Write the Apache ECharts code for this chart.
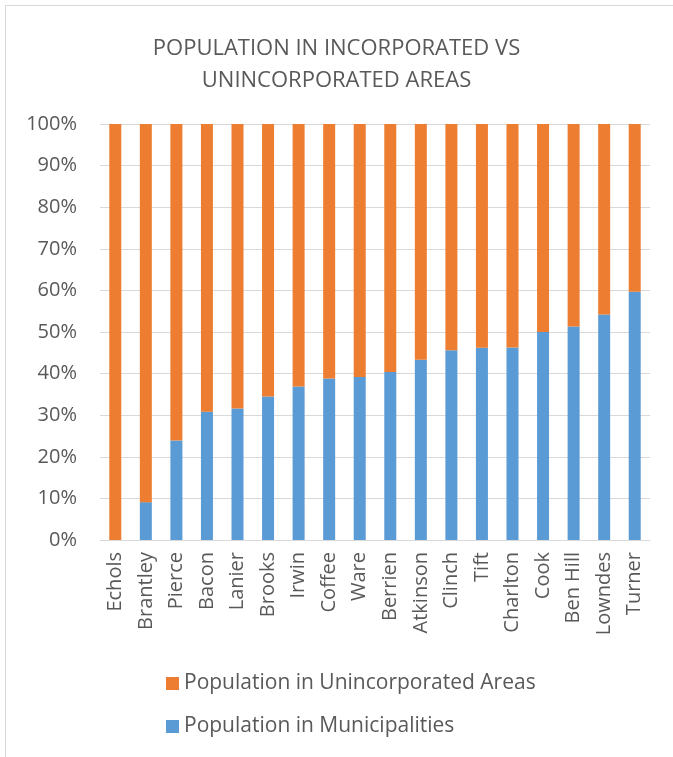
<!DOCTYPE html>
<html>
<head>
<meta charset="utf-8">
<script src="https://cdn.jsdelivr.net/npm/echarts@6/dist/echarts.min.js"></script>
<style>
  html, body { margin: 0; padding: 0; background: #fff; }
  #frame { position: absolute; left: 5px; top: 5px; width: 680px; height: 760px; border: 1px solid #d9d9d9; box-sizing: border-box; }
  #chart { position: absolute; left: 0; top: 0; width: 673px; height: 757px; }
</style>
</head>
<body>
<div id="frame"></div>
<div id="chart"></div>
<script>
// 县名
const counties = ['Echols', 'Brantley', 'Pierce', 'Bacon', 'Lanier', 'Brooks', 'Irwin', 'Coffee', 'Ware',
  'Berrien', 'Atkinson', 'Clinch', 'Tift', 'Charlton', 'Cook', 'Ben Hill', 'Lowndes', 'Turner'];
// 城市人口占比 (%)
const municipalities = [0, 9.1, 23.9, 30.8, 31.6, 34.5, 36.9, 38.8, 39.2,
  40.4, 43.3, 45.6, 46.2, 46.3, 50.0, 51.3, 54.2, 59.7];
// 非建制区人口占比 = 剩余部分
const unincorporated = municipalities.map(v => +(100 - v).toFixed(1));
const yTicks = [0, 10, 20, 30, 40, 50, 60, 70, 80, 90, 100];

const textColor = '#595959';
const font = 'Open Sans';

let mChart = echarts.init(document.getElementById('chart'));
let option = {
  animation: false,
  title: {
    text: 'POPULATION IN INCORPORATED VS\nUNINCORPORATED AREAS',
    left: 'center',
    top: 28,
    textStyle: {
      color: textColor,
      fontSize: 22,
      fontWeight: 'normal',
      fontFamily: font,
      lineHeight: 32
    }
  },
  legend: {
    orient: 'vertical',
    left: 161,
    top: 668,
    itemWidth: 13,
    itemHeight: 13,
    itemGap: 22,
    icon: 'rect',
    data: ['Population in Unincorporated Areas', 'Population in Municipalities'],
    textStyle: { color: textColor, fontSize: 21, fontFamily: font }
  },
  grid: { left: 100, right: 23, top: 124, height: 416 },
  xAxis: {
    type: 'category',
    data: counties,
    axisLine: { lineStyle: { color: '#d9d9d9', width: 1 } },
    axisTick: { show: false },
    axisLabel: {
      rotate: 90,
      interval: 0,
      margin: 12,
      color: textColor,
      fontSize: 20,
      fontFamily: font
    }
  },
  yAxis: {
    type: 'value',
    min: 0,
    max: 100,
    interval: 10,
    axisLine: { show: false },
    axisTick: { show: false },
    splitLine: { lineStyle: { color: '#d9d9d9', width: 1 } },
    axisLabel: {
      margin: 23,
      color: textColor,
      fontSize: 20,
      fontFamily: font,
      formatter: v => yTicks.includes(v) ? v + '%' : ''
    }
  },
  series: [
    {
      name: 'Population in Municipalities',
      type: 'bar',
      stack: 'total',
      barWidth: 12,
      itemStyle: { color: '#5b9bd5' },
      data: municipalities
    },
    {
      name: 'Population in Unincorporated Areas',
      type: 'bar',
      stack: 'total',
      barWidth: 12,
      itemStyle: { color: '#ed7d31' },
      data: unincorporated
    }
  ]
};
mChart.setOption(option);
</script>
</body>
</html>
